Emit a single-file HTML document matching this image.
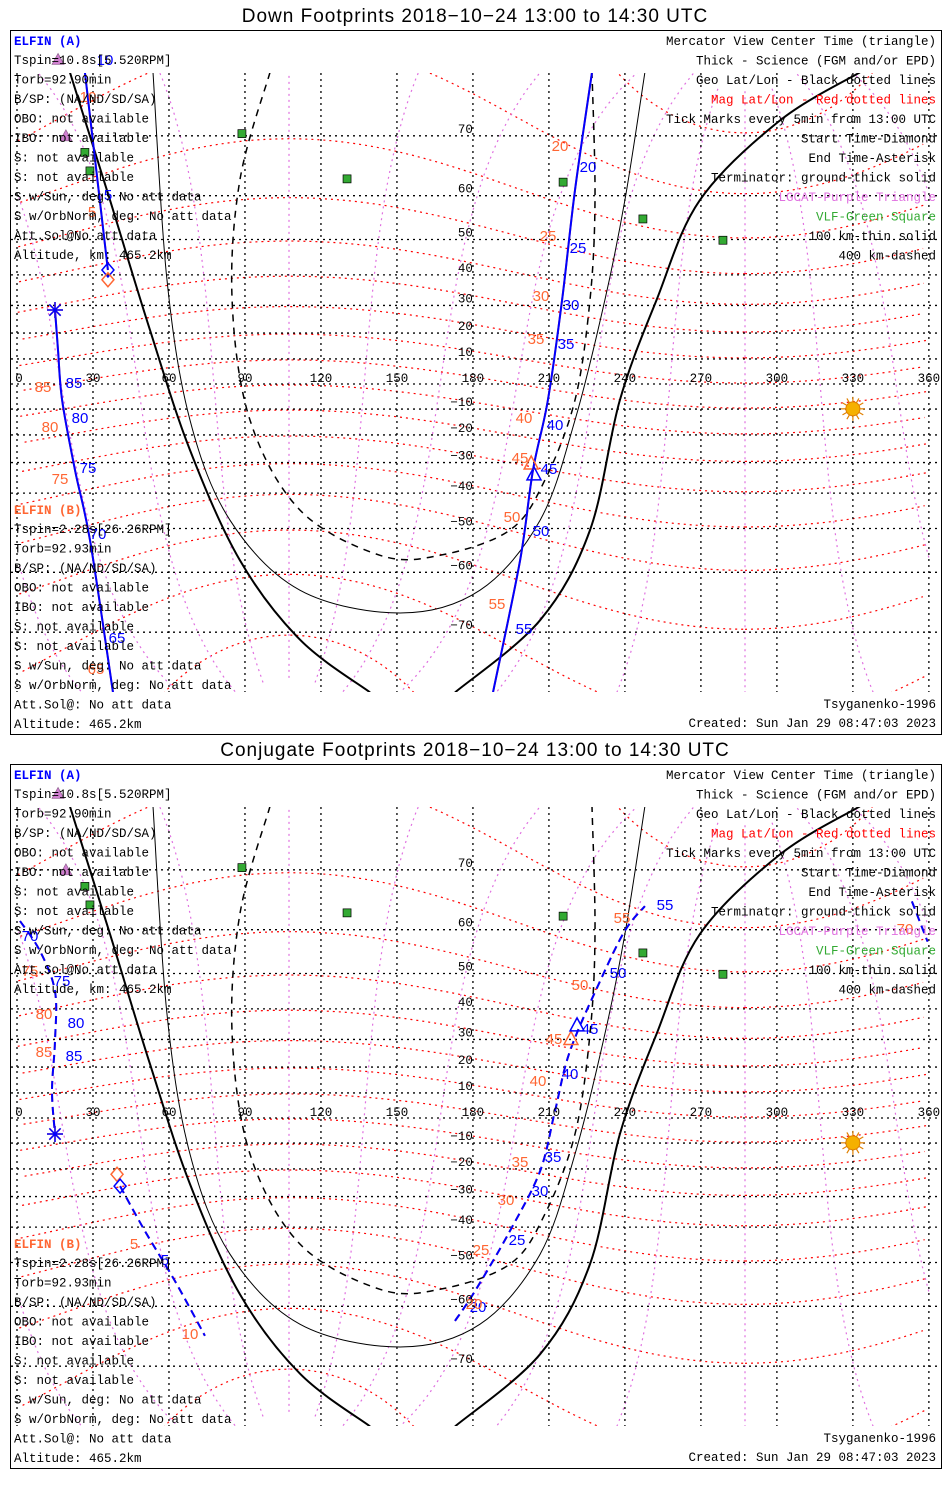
<!DOCTYPE html>
<html><head><meta charset="utf-8"><style>
html,body{margin:0;padding:0;background:#fff}
svg{display:block}
text{font-family:"Liberation Mono","DejaVu Sans Mono",monospace;font-size:12.5px}
.t{font-family:"Liberation Sans",sans-serif;font-size:19px;letter-spacing:1px}
</style></head><body>
<svg id="c" width="950" height="1500" xmlns="http://www.w3.org/2000/svg"></svg>
<script>
// ---------- data (lon east deg, lat deg) ----------
const gridLons=[0,30,60,90,120,150,180,210,240,270,300,330,360];
const gridLats=[70,60,50,40,30,20,10,0,-10,-20,-30,-40,-50,-60,-70];
const termThickLLon=[20.9,36.7,52.5,68.3,88,111.7,139.4];
const termThickLLat=[77.1,59.1,21.1,-25.6,-57.5,-71,-76.8];
const termThickRLon=[332.8,301.2,269.6,252.5,238,226.2,206.5,172.9];
const termThickRLat=[77.1,72,59.1,31.9,-6.4,-50.4,-68.3,-76.8];
const termThinLon=[53.7,59.2,68.3,84.1,111.7,151.2,182.8,206.5,220.3,232.1,240,247.9];
const termThinLat=[77.1,38.4,-14.3,-47.8,-63.4,-67.2,-63.4,-47.8,-14.3,31.9,59.1,77.1];
const termDashLon=[99.9,88,84.9,92,111.7,143.3,167,194.6,208.4,220.3,226.2,228.2,227];
const termDashLat=[77.1,63,31.9,-14.3,-45,-56.4,-56.4,-50.4,-35.9,-6.4,31.9,59.1,77.1];
// down footprints (top)
const downMainLon=[227,220.3,215.2,209.6,203.7,198.6,187.9];
const downMainLat=[77.1,61.1,31.9,-6.4,-32.6,-57.5,-76.8];
const downStartLon=[26.8,35.9];
const downStartLat=[77.1,41.5];
const downEndLon=[15,16.2,17.8,22.9,28.8,37.9];
const downEndLat=[28.4,13.5,-6.4,-32.6,-52.9,-76.8];
// conjugate footprints (bottom)
const conjMainLon=[172.9,180.8,194.6,206.5,212.4,218.3,230.2,240,247.9];
const conjMainLat=[-62.8,-56.8,-41.2,-20.8,2.8,25.9,48,59.8,64.4];
const conjLeftLon=[1.2,9.1,15,15,13.8,15];
const conjLeftLat=[61.7,55.4,45.2,29.5,10.8,-6.4];
const conjWrapLon=[353.3,359.5];
const conjWrapLat=[65.2,57.5];
const conjLowLon=[40.7,50.5,62.4,74.2];
const conjLowLat=[-26.3,-41.2,-54.6,-65.4];
const vlfLon=[88.8,26.8,28.8,130.3,215.6,247.1,278.7];
const vlfLat=[70.3,67.6,64.6,63.2,62.6,55,49.8];
const lgcatLon=[16.2,19.3];
const lgcatLat=[78.2,70];
const sunLon=330, sunLat=-9.9;
// ---------- projection ----------
const X0=17, PXD=2.533, K=143;
function px(lon){return X0+lon*PXD;}
function py(lat,eq){return eq-K*Math.log(Math.tan(Math.PI/4+lat*Math.PI/360));}
const NS="http://www.w3.org/2000/svg";
const svg=document.getElementById('c');
function el(tag,attrs,parent){const e=document.createElementNS(NS,tag);for(const k in attrs)e.setAttribute(k,attrs[k]);(parent||svg).appendChild(e);return e;}
function txt(s,x,y,fill,parent,anchor,cls){const t=el('text',{x:x,y:y,fill:fill||'#000','text-anchor':anchor||'start'},parent);if(cls)t.setAttribute('class',cls);t.textContent=s;return t;}
function line(lons,lats,eq,style,g){
  const P=lons.map((l,i)=>[px(l),py(lats[i],eq)]);
  let d='M'+P[0][0].toFixed(1)+','+P[0][1].toFixed(1);
  for(let i=0;i<P.length-1;i++){const p0=P[i-1]||P[i],p1=P[i],p2=P[i+1],p3=P[i+2]||p2;
    const c1=[p1[0]+(p2[0]-p0[0])/6,p1[1]+(p2[1]-p0[1])/6],c2=[p2[0]-(p3[0]-p1[0])/6,p2[1]-(p3[1]-p1[1])/6];
    d+='C'+c1[0].toFixed(1)+','+c1[1].toFixed(1)+' '+c2[0].toFixed(1)+','+c2[1].toFixed(1)+' '+p2[0].toFixed(1)+','+p2[1].toFixed(1);}
  return el('path',Object.assign({d:d,fill:'none'},style),g);}
// dipole mag -> geo
const TP=9.6*Math.PI/180, LP=287.4*Math.PI/180;
function mag2geo(ml,mlon){const a=ml*Math.PI/180,b=mlon*Math.PI/180;const x1=Math.cos(a)*Math.cos(b),y1=Math.cos(a)*Math.sin(b),z1=Math.sin(a);
const x=x1*Math.cos(TP)+z1*Math.sin(TP),z=-x1*Math.sin(TP)+z1*Math.cos(TP),y=y1;
const X=x*Math.cos(LP)-y*Math.sin(LP),Y=x*Math.sin(LP)+y*Math.cos(LP);
let lon=Math.atan2(Y,X)*180/Math.PI;if(lon<0)lon+=360;return [lon,Math.asin(z)*180/Math.PI];}
function magPath(pts,eq){let d='',prev=null;for(const p of pts){if(p[1]>82||p[1]<-82){prev=null;continue;}const x=px(p[0]),y=py(p[1],eq);if(prev&&Math.abs(x-prev)<200)d+='L'+x.toFixed(1)+','+y.toFixed(1);else d+='M'+x.toFixed(1)+','+y.toFixed(1);prev=x;}return d;}

function panel(id,top,title,tracksFn,labels){
  const eq=top+354, mTop=top+43, mBot=top+662;
  const g=el('g',{});
  
  
  const tt=txt(title,475,top-8,'#000',g,'middle','t');
  
  
  const border=el('rect',{x:10.5,y:top+0.5,width:931,height:704,fill:'none',stroke:'#000','stroke-width':1},g);
  
  
  const cid='clip'+top;
  const cp=el('clipPath',{id:cid},g);el('rect',{x:11,y:mTop,width:929,height:mBot-mTop},cp);
  const m=el('g',{'clip-path':'url(#'+cid+')'},g);
  
  
  const mg=el('g',{},m);
  
  
  for(let ml=-80;ml<=80;ml+=10){const pts=[];for(let lo=0;lo<=360;lo+=3)pts.push(mag2geo(ml,lo));el('path',{d:magPath(pts,eq),fill:'none',stroke:'#f00','stroke-width':1.2,'stroke-dasharray':'2,4'},mg);}
  for(let lo=0;lo<360;lo+=30){const pts=[];for(let ml=-85;ml<=85;ml+=2)pts.push(mag2geo(ml,lo));el('path',{d:magPath(pts,eq),fill:'none',stroke:'#e070e0','stroke-width':1.2,'stroke-dasharray':'2,4'},mg);}
  const gg=el('g',{},m);
  
  
  for(const lo of gridLons)el('line',{x1:px(lo),x2:px(lo),y1:mTop,y2:mBot,stroke:'#000','stroke-width':1.3,'stroke-dasharray':'2,4'},gg);
  for(const la of gridLats)el('line',{x1:11,x2:940,y1:py(la,eq),y2:py(la,eq),stroke:'#000','stroke-width':1.3,'stroke-dasharray':'2,4'},gg);
  line(termThickLLon,termThickLLat,eq,{stroke:'#000','stroke-width':2},m);
  line(termThickRLon,termThickRLat,eq,{stroke:'#000','stroke-width':2},m);
  line(termThinLon,termThinLat,eq,{stroke:'#000','stroke-width':1},m);
  line(termDashLon,termDashLat,eq,{stroke:'#000','stroke-width':1.5,'stroke-dasharray':'7,6'},m);
  for(const lo of gridLons){const t=txt(String(lo),px(lo)+(lo===0?2:0),eq-2,'#000',g,'middle');}
  for(const la of gridLats){if(la===0)continue;const t=txt(la<0?'\u2212'+(-la):String(la),px(180),py(la,eq)-3,'#000',g,'end');}
  for(let i=0;i<vlfLon.length;i++){const r=el('rect',{x:px(vlfLon[i])-4,y:py(vlfLat[i],eq)-4,width:8,height:8,fill:'#3a3',stroke:'#000','stroke-width':0.7},g);}
  for(let i=0;i<lgcatLon.length;i++){const x=px(lgcatLon[i]),y=py(lgcatLat[i],eq);const p=el('path',{d:`M${x},${y-6}L${x+6},${y+5}L${x-6},${y+5}Z`,fill:'#d080d0',stroke:'#906090','stroke-width':0.7},g);}
  const sx=px(sunLon),sy=py(sunLat,eq);
  const sg=el('g',{},g);
  for(let a=0;a<360;a+=30){const r=a*Math.PI/180;el('line',{x1:sx+7*Math.cos(r),y1:sy+7*Math.sin(r),x2:sx+12*Math.cos(r),y2:sy+12*Math.sin(r),stroke:'#e08000','stroke-width':1.2},sg);}
  el('circle',{cx:sx,cy:sy,r:7,fill:'#f5b000',stroke:'#e08000'},sg);
  tracksFn(g,m,eq);
  for(const L of labels){const t=txt(L[0],L[1],top+L[2],L[3],g,'middle');t.style.fontSize='15px';t.style.fontFamily='"Liberation Sans",sans-serif';}
  const lA=['Tspin=10.8s[5.520RPM]','Torb=92.90min','B/SP: (NA/ND/SD/SA)','OBO: not available','IBO: not available','S: not available','S: not available','S w/Sun, deg: No att data','S w/OrbNorm, deg: No att data','Att.Sol@No att data','Altitude, km: 465.2km'];
  const lB=['Tspin=2.28s[26.26RPM]','Torb=92.93min','B/SP: (NA/ND/SD/SA)','OBO: not available','IBO: not available','S: not available','S: not available','S w/Sun, deg: No att data','S w/OrbNorm, deg: No att data','Att.Sol@: No att data','Altitude: 465.2km'];
  const ha=txt('ELFIN (A)',14,top+15,'#00f',g);ha.style.fontWeight='bold';
  lA.forEach((s,i)=>{const t=txt(s,14,top+34+i*19.5,'#000',g);});
  const hb=txt('ELFIN (B)',14,top+484,'#f63',g);hb.style.fontWeight='bold';
  lB.forEach((s,i)=>{const t=txt(s,14,top+503+i*19.5,'#000',g);});
  const R=[['Mercator View Center Time (triangle)','#000'],['Thick - Science (FGM and/or EPD)','#000'],['Geo Lat/Lon - Black dotted lines','#000'],['Mag Lat/Lon - Red dotted lines','#f00'],['Tick Marks every 5min from 13:00 UTC','#000'],['Start Time-Diamond','#000'],['End Time-Asterisk','#000'],['Terminator: ground-thick solid','#000'],['LGCAT-Purple Triangle','#e070e0'],['VLF-Green Square','#3a3'],['100 km-thin solid','#000'],['400 km-dashed','#000']];
  R.forEach((r,i)=>{const t=txt(r[0],936,top+15+i*19.5,r[1],g,'end');});
  const ts=txt('Tsyganenko-1996',936,top+678,'#000',g,'end');
  const cr=txt('Created: Sun Jan 29 08:47:03 2023',936,top+697,'#000',g,'end');
}
function diamond(g,x,y,c,name){const p=el('path',{d:`M${x},${y-7}L${x+6},${y}L${x},${y+7}L${x-6},${y}Z`,fill:'none',stroke:c,'stroke-width':1.5},g);}
function tri(g,x,y,c,name){const p=el('path',{d:`M${x},${y-8}L${x+7},${y+5}L${x-7},${y+5}Z`,fill:'none',stroke:c,'stroke-width':1.5},g);}
function star(g,x,y,c,name){const s=el('g',{stroke:c,'stroke-width':1.5},g);for(let a=0;a<180;a+=45){const r=a*Math.PI/180;el('line',{x1:x-8*Math.cos(r),y1:y-8*Math.sin(r),x2:x+8*Math.cos(r),y2:y+8*Math.sin(r)},s);}}

panel('down-footprints-panel',30,'Down Footprints 2018\u221210\u221224 13:00 to 14:30 UTC',function(g,m,eq){
  const so={stroke:'#f63','stroke-width':2}, sb={stroke:'#00f','stroke-width':2};
  line(downMainLon,downMainLat,eq,so,m);
  line(downMainLon,downMainLat,eq,sb,m);
  line(downStartLon,downStartLat,eq,so,m);
  line(downStartLon,downStartLat,eq,sb,m);
  line(downEndLon,downEndLat,eq,so,m);
  line(downEndLon,downEndLat,eq,sb,m);
  diamond(g,px(35.9),py(41.5,eq),'#00f','elfin-a-start-diamond');
  diamond(g,px(35.9),py(38.5,eq),'#f63','elfin-b-start-diamond');
  star(g,px(15),py(28.4,eq),'#f63','elfin-b-end-asterisk');
  star(g,px(15),py(28.4,eq),'#00f','elfin-a-end-asterisk');
  tri(g,px(203),py(-30.5,eq),'#f63','elfin-b-center-triangle');
  tri(g,px(204.1),py(-34.2,eq),'#00f','elfin-a-center-triangle');
},[['10',105,35,'#00f'],['5',108,170,'#00f'],['10',88,72,'#f63'],['5',92,187,'#f63'],['85',74,358,'#00f'],['80',80,393,'#00f'],['75',88,443,'#00f'],['70',98,509,'#00f'],['65',117,613,'#00f'],['85',43,362,'#f63'],['80',50,402,'#f63'],['75',60,454,'#f63'],['65',96,644,'#f63'],
['20',588,142,'#00f'],['25',578,223,'#00f'],['30',571,280,'#00f'],['35',566,319,'#00f'],['40',555,400,'#00f'],['45',549,444,'#00f'],['50',541,506,'#00f'],['55',524,604,'#00f'],
['20',560,121,'#f63'],['25',548,211,'#f63'],['30',541,271,'#f63'],['35',536,314,'#f63'],['40',524,393,'#f63'],['45',520,433,'#f63'],['50',512,492,'#f63'],['55',497,579,'#f63']]);

panel('conjugate-footprints-panel',764,'Conjugate Footprints 2018\u221210\u221224 13:00 to 14:30 UTC',function(g,m,eq){
  const so={stroke:'#f63','stroke-width':2,'stroke-dasharray':'8,5'}, sb={stroke:'#00f','stroke-width':2,'stroke-dasharray':'8,5'};
  [['main',conjMainLon,conjMainLat],['left',conjLeftLon,conjLeftLat],['wrap',conjWrapLon,conjWrapLat],['low',conjLowLon,conjLowLat]].forEach(t=>{
    line(t[1],t[2],eq,so,m);
    line(t[1],t[2],eq,sb,m);
  });
  diamond(g,px(39.5),py(-22,eq),'#f63','elfin-b-start-diamond');
  diamond(g,px(40.7),py(-26.3,eq),'#00f','elfin-a-start-diamond');
  star(g,px(15),py(-6.4,eq),'#f63','elfin-b-end-asterisk');
  star(g,px(15),py(-6.4,eq),'#00f','elfin-a-end-asterisk');
  tri(g,px(218.7),py(30,eq),'#f63','elfin-b-center-triangle');
  tri(g,px(221.1),py(34.6,eq),'#00f','elfin-a-center-triangle');
},[['70',30,177,'#00f'],['75',62,222,'#00f'],['80',76,264,'#00f'],['85',74,297,'#00f'],['75',30,212,'#f63'],['80',44,255,'#f63'],['85',44,293,'#f63'],['5',165,501,'#00f'],['5',134,485,'#f63'],['10',190,575,'#f63'],['70',905,170,'#f63'],
['55',665,146,'#00f'],['50',618,214,'#00f'],['45',590,270,'#00f'],['40',570,315,'#00f'],['35',553,398,'#00f'],['30',540,432,'#00f'],['25',517,481,'#00f'],['20',478,548,'#00f'],
['55',622,159,'#f63'],['50',580,226,'#f63'],['45',554,280,'#f63'],['40',538,322,'#f63'],['35',520,403,'#f63'],['30',506,441,'#f63'],['25',481,491,'#f63'],['20',474,545,'#f63']]);
</script>
</body></html>
